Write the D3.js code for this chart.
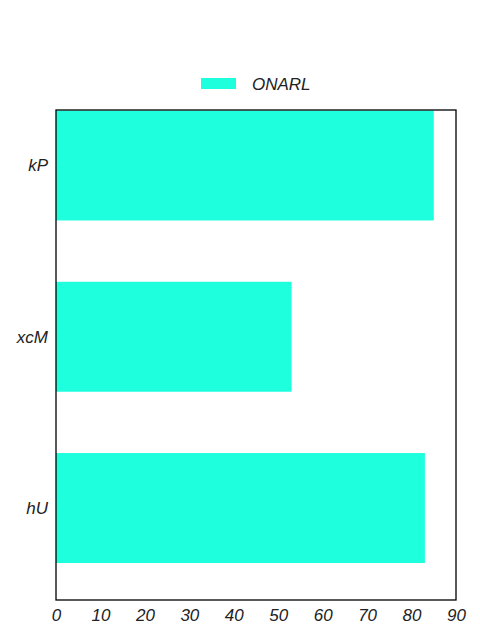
<!DOCTYPE html>
<html>
<head>
<meta charset="utf-8">
<script src="https://cdn.jsdelivr.net/npm/d3@7"></script>
<style>
  html, body { margin: 0; padding: 0; background: #fff; }
  svg { display: block; }
  text { font-family: "Liberation Sans", Arial, sans-serif; font-style: italic; }
</style>
</head>
<body>
<svg id="chart" width="480" height="640"></svg>
<script>
const categories = ["kP", "xcM", "hU"];
const values = [85, 53, 83];
const seriesName = "ONARL";
const xTicks = [0, 10, 20, 30, 40, 50, 60, 70, 80, 90];

(function () {
const color = "#1effdd";
const svg = d3.select("#chart");
const mLeft = 56, mRight = 456, mTop = 110, mBottom = 600;

const x = d3.scaleLinear().domain([0, 90]).range([mLeft, mRight]);
const y = d3.scaleLinear().domain([-0.324, 2.537]).range([mTop, mBottom]);
const barH = 0.642;

svg.append("g").selectAll("rect").data(values).join("rect")
  .attr("x", x(0))
  .attr("y", (d, i) => y(i - barH / 2))
  .attr("width", d => x(d) - x(0))
  .attr("height", y(barH) - y(0))
  .attr("fill", color);

// frame
svg.append("rect")
  .attr("x", mLeft).attr("y", mTop)
  .attr("width", mRight - mLeft).attr("height", mBottom - mTop)
  .attr("fill", "none").attr("stroke", "#000").attr("stroke-width", 1.3);

// x axis
const xAxis = svg.append("g")
  .attr("transform", `translate(0,${mBottom})`)
  .call(d3.axisBottom(x).tickValues(xTicks).tickSize(0).tickPadding(9).tickFormat(d3.format("d")));
xAxis.select(".domain").remove();
xAxis.selectAll("text").attr("font-size", 17).attr("fill", "#222")
  .style("font-family", "'Liberation Sans', Arial, sans-serif").style("font-style", "italic");

// y axis
const yAxis = svg.append("g")
  .attr("transform", `translate(${mLeft},0)`)
  .call(d3.axisLeft(y).tickValues([0, 1, 2]).tickSize(0).tickPadding(8).tickFormat(i => categories[i]));
yAxis.select(".domain").remove();
yAxis.selectAll("text").attr("font-size", 17).attr("fill", "#222")
  .style("font-family", "'Liberation Sans', Arial, sans-serif").style("font-style", "italic");

// legend
const lg = svg.append("g");
lg.append("rect").attr("x", 201).attr("y", 78).attr("width", 35).attr("height", 11).attr("fill", color);
lg.append("text").attr("x", 252).attr("y", 90).attr("font-size", 17).attr("fill", "#222").text(seriesName);
})();
</script>
</body>
</html>
